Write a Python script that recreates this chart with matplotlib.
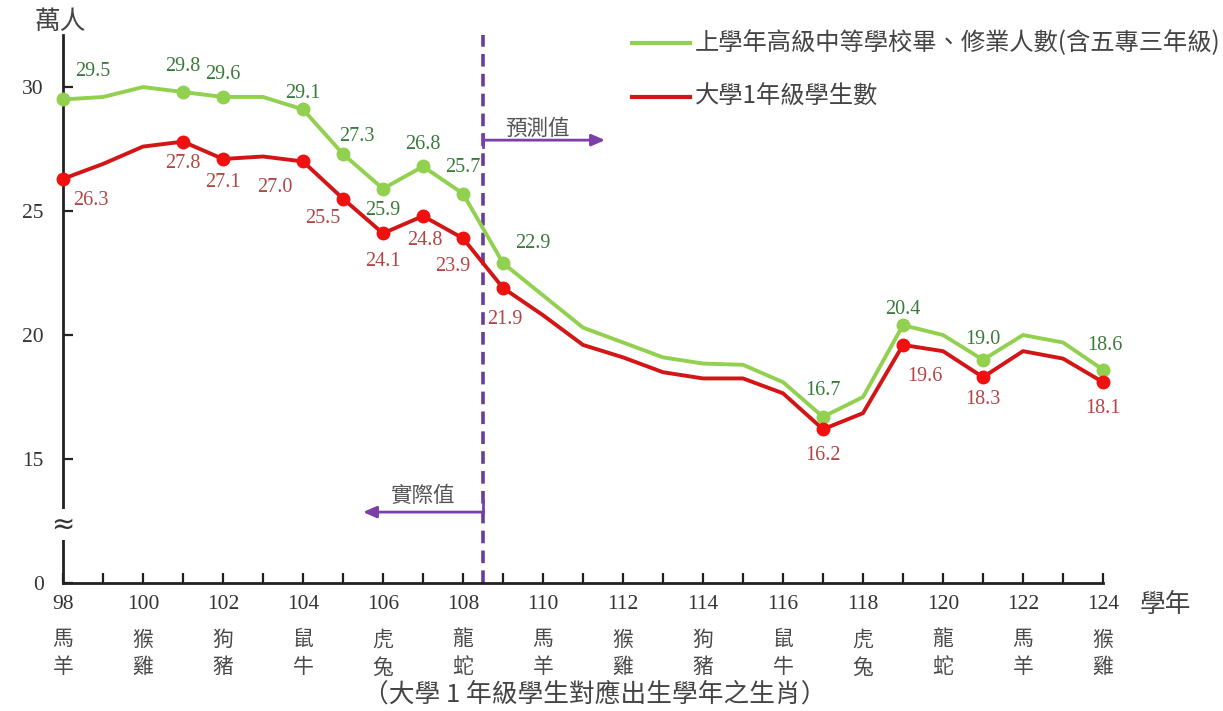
import matplotlib
matplotlib.use("Agg")
import matplotlib.pyplot as plt
from matplotlib.lines import Line2D

# ---------------- data ----------------
years = list(range(98, 125))
grad_values = [29.5, 29.6, 30.0, 29.8, 29.6, 29.6, 29.1, 27.3, 25.9, 26.8, 25.7, 22.9,
               21.6, 20.3, 19.7, 19.1, 18.85, 18.8, 18.1, 16.7, 17.5, 20.4, 20.0, 19.0,
               20.0, 19.7, 18.6]
fresh_values = [26.3, 26.9, 27.6, 27.8, 27.1, 27.2, 27.0, 25.5, 24.1, 24.8, 23.9, 21.9,
                20.8, 19.6, 19.1, 18.5, 18.25, 18.25, 17.65, 16.2, 16.85, 19.6, 19.35, 18.3,
                19.35, 19.05, 18.1]
marked_years = [98, 101, 102, 104, 105, 106, 107, 108, 109, 117, 119, 121, 124]
tick_years = list(range(98, 125, 2))
zodiac_top = ["馬", "猴", "狗", "鼠", "虎", "龍", "馬", "猴", "狗", "鼠", "虎", "龍", "馬", "猴"]
zodiac_bot = ["羊", "雞", "豬", "牛", "兔", "蛇", "羊", "雞", "豬", "牛", "兔", "蛇", "羊", "雞"]
ytick_vals = [10, 15, 20, 25, 30]
ytick_labels = ["0", "15", "20", "25", "30"]
series_names = ["上學年高級中等學校畢、修業人數(含五專三年級)", "大學1年級學生數"]
split_year = 108.5

# label offsets (pixels) for value annotations
grad_off = {98: (30, 28), 101: (0, 26), 102: (0, 22), 104: (0, 16), 105: (14, 18), 106: (0, -22),
            107: (0, 22), 108: (0, 26), 109: (30, 20), 117: (0, 26), 119: (0, 16), 121: (0, 20),
            124: (2, 24)}
fresh_off = {98: (28, -22), 101: (0, -22), 102: (0, -24), 104: (-28, -26), 105: (-20, -20),
             106: (0, -28), 107: (2, -24), 108: (-10, -28), 109: (2, -32), 117: (0, -26),
             119: (22, -32), 121: (0, -22), 124: (0, -26)}

CJK = ["Noto Sans CJK TC", "DejaVu Sans"]
SERIF = ["Liberation Serif", "DejaVu Serif"]

W, H = 1223, 711
fig = plt.figure(figsize=(W / 100, H / 100), dpi=100)
fig.patch.set_facecolor("white")

ax_left, ax_right, ax_bottom_px, ax_top_px = 63, 1103, 583, 35
ax = fig.add_axes([ax_left / W, 1 - ax_bottom_px / H, (ax_right - ax_left) / W,
                   (ax_bottom_px - ax_top_px) / H])
ax.set_xlim(98, 124)
ax.set_ylim(10, 32.1)
ax.set_facecolor("none")

green = "#92d050"
red_line = "#d41515"
red_mark = "#f01010"
green_txt = "#3a7a3a"
red_txt = "#b54545"
purple = "#6a3d9a"

ax.plot(years, grad_values, color=green, lw=2.8, zorder=3, clip_on=False)
ax.plot(years, fresh_values, color=red_line, lw=2.8, zorder=4, clip_on=False)

for yv in marked_years:
    i = years.index(yv)
    ax.plot([yv], [grad_values[i]], "o", ms=9, color=green, zorder=5, clip_on=False)
    ax.plot([yv], [fresh_values[i]], "o", ms=9, color=red_mark, zorder=6, clip_on=False)
    dx, dy = grad_off[yv]
    ax.annotate(f"{grad_values[i]:.1f}", (yv, grad_values[i]), xytext=(dx, dy),
                textcoords="offset pixels", ha="center", va="center", fontsize=14.5,
                family=SERIF, color=green_txt, zorder=7)
    dx, dy = fresh_off[yv]
    ax.annotate(f"{fresh_values[i]:.1f}", (yv, fresh_values[i]), xytext=(dx, dy),
                textcoords="offset pixels", ha="center", va="center", fontsize=14.5,
                family=SERIF, color=red_txt, zorder=7)

# spines
for s in ["top", "right"]:
    ax.spines[s].set_visible(False)
for s in ["left", "bottom"]:
    ax.spines[s].set_linewidth(2)
    ax.spines[s].set_color("#222222")

ax.set_xticks(tick_years)
ax.set_xticks([y for y in years if y % 2 == 1], minor=True)
ax.set_xticklabels([])
ax.tick_params(axis="x", which="both", direction="in", length=7, width=1.6, color="#222222")
ax.set_yticks(ytick_vals)
ax.set_yticklabels(ytick_labels, family=SERIF, fontsize=15.5, color="#333333")
ax.tick_params(axis="y", direction="in", length=7, width=1.6, color="#222222", pad=14)

# x tick labels (year + zodiac)
tr = ax.get_xaxis_transform()
for k, yv in enumerate(tick_years):
    ax.text(yv, -0.04, str(yv), transform=tr, ha="center", va="center", fontsize=15.5,
            family=SERIF, color="#333333")
    ax.text(yv, -0.103, zodiac_top[k], transform=tr, ha="center", va="center", fontsize=15,
            family=CJK, color="#4a4a4a")
    ax.text(yv, -0.154, zodiac_bot[k], transform=tr, ha="center", va="center", fontsize=15,
            family=CJK, color="#4a4a4a")

# axis break mark
ax.text(98, 12.35, "≈", ha="center", va="center", fontsize=20, family=["DejaVu Sans"],
        color="#333333", zorder=10, clip_on=False,
        bbox=dict(boxstyle="square,pad=0.05", fc="white", ec="none"))

# split line
ax.axvline(split_year, color=purple, lw=2.6, ls=(0, (3.5, 2)), zorder=2)

# arrows
ax.annotate("", xy=(111.55, 27.86), xytext=(split_year, 27.86),
            arrowprops=dict(arrowstyle="-|>,head_length=0.8,head_width=0.35", color="#7a3fa8", lw=2,
                            shrinkA=0, shrinkB=0), zorder=8)
ax.plot([split_year, split_year], [27.6, 28.12], color="#7a3fa8", lw=2, zorder=8)
ax.text(109.85, 28.3, "預測值", ha="center", va="center", fontsize=15.5, family=CJK, color="#555555")
ax.annotate("", xy=(105.5, 12.86), xytext=(split_year, 12.86),
            arrowprops=dict(arrowstyle="-|>,head_length=0.8,head_width=0.35", color="#7a3fa8", lw=2,
                            shrinkA=0, shrinkB=0), zorder=8)
ax.plot([split_year, split_year], [12.86, 13.3], color="#7a3fa8", lw=2, zorder=8)
ax.text(107.0, 13.5, "實際值", ha="center", va="center", fontsize=15.5, family=CJK, color="#555555")

# legend (manual)
for (ypx, col, name) in [(43, green, series_names[0]), (97, red_line, series_names[1])]:
    fig.add_artist(Line2D([632 / W, 690 / W], [1 - ypx / H, 1 - ypx / H], color=col, lw=3,
                          transform=fig.transFigure))
    fig.text(695 / W, 1 - ypx / H, name, ha="left", va="center", fontsize=17.5,
             family=CJK, color="#444444")

# axis titles
fig.text(35 / W, 1 - 22 / H, "萬人", ha="left", va="center", fontsize=18.5, family=CJK, color="#444444")
fig.text(1140 / W, 1 - 605 / H, "學年", ha="left", va="center", fontsize=18.5, family=CJK, color="#444444")
fig.text(595 / W, 1 - 695 / H, "（大學 1 年級學生對應出生學年之生肖）", ha="center", va="center",
         fontsize=18.5, family=CJK, color="#444444")

fig.savefig("out.png", dpi=100, facecolor="white")
